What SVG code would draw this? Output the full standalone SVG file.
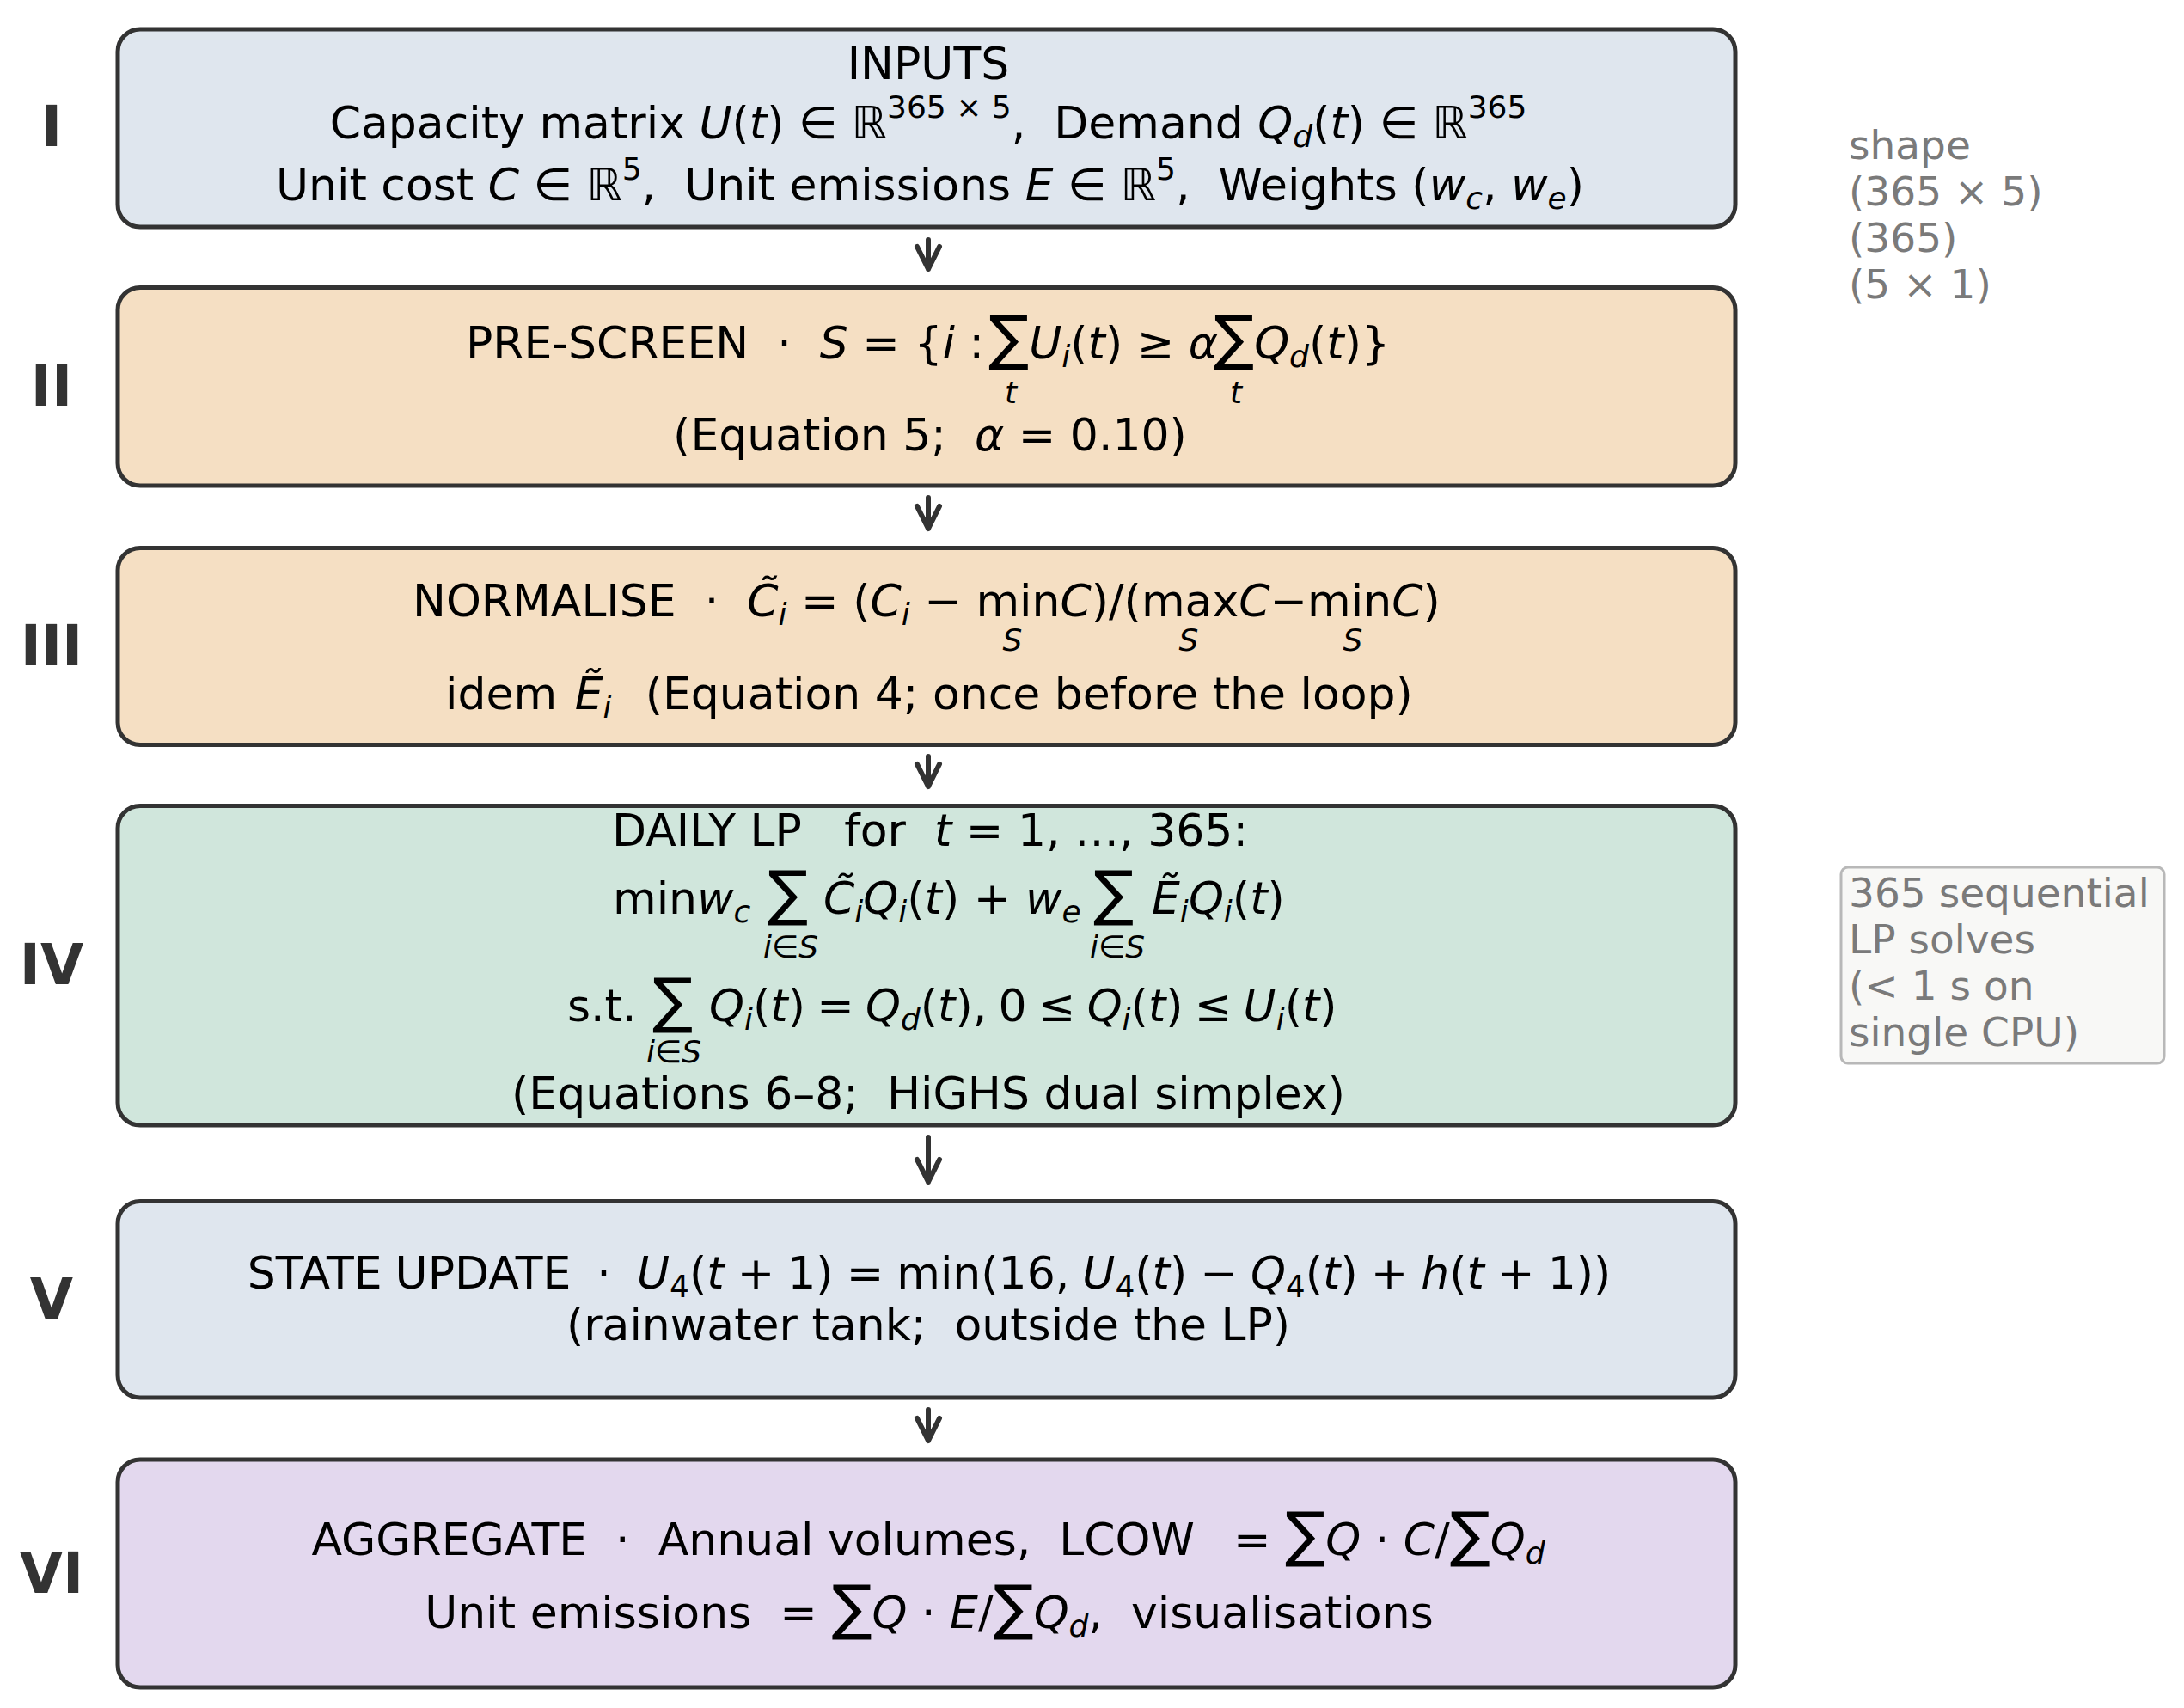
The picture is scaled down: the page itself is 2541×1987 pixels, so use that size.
<svg xmlns="http://www.w3.org/2000/svg" width="2541" height="1987" viewBox="0 0 2541 1987">
<style>
.bg{fill:#ffffff}
.box{stroke:#333333;stroke-width:5}
.b1{fill:#dfe6ee}
.b2{fill:#f5dfc3}
.b4{fill:#d0e6dc}
.b6{fill:#e3d8ee}
.t{font-family:'DejaVu Sans','Liberation Sans',sans-serif;font-size:52px;fill:#000000}
.m{text-anchor:middle}
.i{font-style:italic}
.s{font-size:36px}
.big{font-size:70px}
.num{font-family:'DejaVu Sans','Liberation Sans',sans-serif;font-weight:bold;font-size:65px;fill:#333333;text-anchor:middle}
.side{font-family:'DejaVu Sans','Liberation Sans',sans-serif;font-size:47px;fill:#7a7a7a}
.note{fill:#f8f8f6;stroke:#b8b8b8;stroke-width:3}
.arr{fill:none;stroke:#333333;stroke-width:6;stroke-linecap:round;stroke-linejoin:round}
</style>
<rect class="bg" x="0" y="0" width="2541" height="1987"/>

<g id="node-I">
<rect class="box b1" x="137" y="34" width="1882" height="230" rx="26"/>
<text class="num" x="60" y="170">I</text>
<text class="t m" x="1080" y="92">INPUTS</text>
<text class="t m" x="1080" y="161">Capacity matrix <tspan class="i">U</tspan>(<tspan class="i">t</tspan>) ∈ ℝ<tspan class="s" dy="-24">365 × 5</tspan><tspan dy="24">, &#160;Demand </tspan><tspan class="i">Q</tspan><tspan class="s i" dy="10">d</tspan><tspan dy="-10">(</tspan><tspan class="i">t</tspan>) ∈ ℝ<tspan class="s" dy="-24">365</tspan></text>
<text class="t m" x="1082" y="233">Unit cost <tspan class="i">C</tspan> ∈ ℝ<tspan class="s" dy="-24">5</tspan><tspan dy="24">, &#160;Unit emissions </tspan><tspan class="i">E</tspan> ∈ ℝ<tspan class="s" dy="-24">5</tspan><tspan dy="24">, &#160;Weights (</tspan><tspan class="i">w</tspan><tspan class="s i" dy="10">c</tspan><tspan dy="-10">, </tspan><tspan class="i">w</tspan><tspan class="s i" dy="10">e</tspan><tspan dy="-10">)</tspan></text>
</g>

<g id="node-II">
<rect class="box b2" x="137" y="334.5" width="1882" height="230.5" rx="26"/>
<text class="num" x="60" y="472">II</text>
<text class="t" x="542" y="417">PRE-SCREEN &#160;· &#160;<tspan class="i">S</tspan> = {<tspan class="i">i</tspan> : <tspan class="big" x="1150">∑</tspan><tspan class="i">U</tspan><tspan class="s i" dy="10">i</tspan><tspan dy="-10">(</tspan><tspan class="i">t</tspan>) ≥ <tspan class="i">α</tspan><tspan class="big" x="1412">∑</tspan><tspan class="i">Q</tspan><tspan class="s i" dy="10">d</tspan><tspan dy="-10">(</tspan><tspan class="i">t</tspan>)}<tspan class="s i m" x="1176" y="469">t</tspan><tspan class="s i m" x="1438" y="469">t</tspan></text>
<text class="t m" x="1082" y="524">(Equation 5; &#160;<tspan class="i">α</tspan> = 0.10)</text>
</g>

<g id="node-III">
<rect class="box b2" x="137" y="637.5" width="1882" height="229" rx="26"/>
<text class="num" x="60" y="774">III</text>
<text class="t" x="480" y="717">NORMALISE &#160;· &#160;<tspan class="i">C̃</tspan><tspan class="s i" dy="10">i</tspan><tspan dy="-10"> = (</tspan><tspan class="i">C</tspan><tspan class="s i" dy="10">i</tspan><tspan dy="-10"> − min</tspan><tspan class="i">C</tspan>)/(max<tspan class="i">C</tspan>−min<tspan class="i">C</tspan>)<tspan class="s i m" x="1178" y="757">S</tspan><tspan class="s i m" x="1383" y="757">S</tspan><tspan class="s i m" x="1574" y="757">S</tspan></text>
<text class="t m" x="1081" y="825">idem<tspan class="i" dx="4"> Ẽ</tspan><tspan class="s i" dy="10">i</tspan><tspan dy="-10" dx="6"> &#160;(Equation 4; once before the loop)</tspan></text>
</g>

<g id="node-IV">
<rect class="box b4" x="137" y="937.5" width="1882" height="371.5" rx="26"/>
<text class="num" x="60" y="1145">IV</text>
<text class="t m" x="1082" y="984">DAILY LP &#160;&#160;for &#160;<tspan class="i">t</tspan> = 1, …, 365:</text>
<text class="t" x="713" y="1063">min<tspan class="i">w</tspan><tspan class="s i" dy="10">c</tspan><tspan class="big" dy="-10" x="893">∑</tspan><tspan class="i" x="958">C̃</tspan><tspan class="s i" dy="10">i</tspan><tspan class="i" dy="-10">Q</tspan><tspan class="s i" dy="10">i</tspan><tspan dy="-10">(</tspan><tspan class="i">t</tspan>) + <tspan class="i">w</tspan><tspan class="s i" dy="10">e</tspan><tspan class="big" dy="-10" x="1272">∑</tspan><tspan class="i" x="1340">Ẽ</tspan><tspan class="s i" dy="10">i</tspan><tspan class="i" dy="-10">Q</tspan><tspan class="s i" dy="10">i</tspan><tspan dy="-10">(</tspan><tspan class="i">t</tspan>)<tspan class="s i m" x="920" y="1114">i∈S</tspan><tspan class="s i m" x="1300" y="1114">i∈S</tspan></text>
<text class="t" x="660" y="1188" style="word-spacing:-3.3px">s.t.<tspan class="big" x="759">∑</tspan><tspan class="i" x="825">Q</tspan><tspan class="s i" dy="10">i</tspan><tspan dy="-10">(</tspan><tspan class="i">t</tspan>) = <tspan class="i">Q</tspan><tspan class="s i" dy="10">d</tspan><tspan dy="-10">(</tspan><tspan class="i">t</tspan>), 0 ≤ <tspan class="i">Q</tspan><tspan class="s i" dy="10">i</tspan><tspan dy="-10">(</tspan><tspan class="i">t</tspan>) ≤ <tspan class="i">U</tspan><tspan class="s i" dy="10">i</tspan><tspan dy="-10">(</tspan><tspan class="i">t</tspan>)<tspan class="s i m" x="784" y="1236">i∈S</tspan></text>
<text class="t m" x="1080" y="1290">(Equations 6–8; &#160;HiGHS dual simplex)</text>
</g>

<g id="node-V">
<rect class="box b1" x="137" y="1397.5" width="1882" height="228.5" rx="26"/>
<text class="num" x="60" y="1534">V</text>
<text class="t m" x="1081" y="1499"><tspan style="word-spacing:-1.5px">STATE UPDATE &#160;· &#160;<tspan class="i">U</tspan><tspan class="s" dy="10">4</tspan><tspan dy="-10">(</tspan><tspan class="i">t</tspan> + 1) = min(16, <tspan class="i">U</tspan><tspan class="s" dy="10">4</tspan><tspan dy="-10">(</tspan><tspan class="i">t</tspan>) − <tspan class="i">Q</tspan><tspan class="s" dy="10">4</tspan><tspan dy="-10">(</tspan><tspan class="i">t</tspan>) + <tspan class="i">h</tspan>(<tspan class="i">t</tspan> + 1))</tspan><tspan x="1080" y="1559">(rainwater tank; &#160;outside the LP)</tspan></text>
</g>

<g id="node-VI">
<rect class="box b6" x="137" y="1698" width="1882" height="265" rx="26"/>
<text class="num" x="60" y="1853">VI</text>
<text class="t m" x="1080" y="1809">AGGREGATE &#160;· &#160;Annual volumes, &#160;LCOW &#160;<tspan dx="12">=</tspan> <tspan class="big">∑</tspan><tspan class="i">Q</tspan> · <tspan class="i">C</tspan>/<tspan class="big">∑</tspan><tspan class="i">Q</tspan><tspan class="s i" dy="10">d</tspan></text>
<text class="t m" x="1081" y="1894">Unit emissions &#160;= <tspan class="big">∑</tspan><tspan class="i">Q</tspan> · <tspan class="i">E</tspan>/<tspan class="big">∑</tspan><tspan class="i">Q</tspan><tspan class="s i" dy="10">d</tspan><tspan dy="-10">, &#160;visualisations</tspan></text>
</g>

<g id="note-shape">
<text class="side" x="2151" y="185">shape</text>
<text class="side" x="2151" y="239">(365 × 5)</text>
<text class="side" x="2151" y="293">(365)</text>
<text class="side" x="2151" y="347">(5 × 1)</text>
</g>

<g id="note-lp">
<rect class="note" x="2142" y="1009" width="376" height="228" rx="8"/>
<text class="side" x="2151" y="1055">365 sequential</text>
<text class="side" x="2151" y="1109">LP solves</text>
<text class="side" x="2151" y="1163">(&lt; 1 s on</text>
<text class="side" x="2151" y="1217">single CPU)</text>
</g>

<g id="connectors">
<path class="arr" d="M1080 279 V313 M1067 287 L1080 313 L1093 287"/>
<path class="arr" d="M1080 579 V615 M1067 589 L1080 615 L1093 589"/>
<path class="arr" d="M1080 880 V915 M1067 889 L1080 915 L1093 889"/>
<path class="arr" d="M1080 1323 V1375 M1067 1349 L1080 1375 L1093 1349"/>
<path class="arr" d="M1080 1640 V1676 M1067 1650 L1080 1676 L1093 1650"/>
</g>
</svg>
